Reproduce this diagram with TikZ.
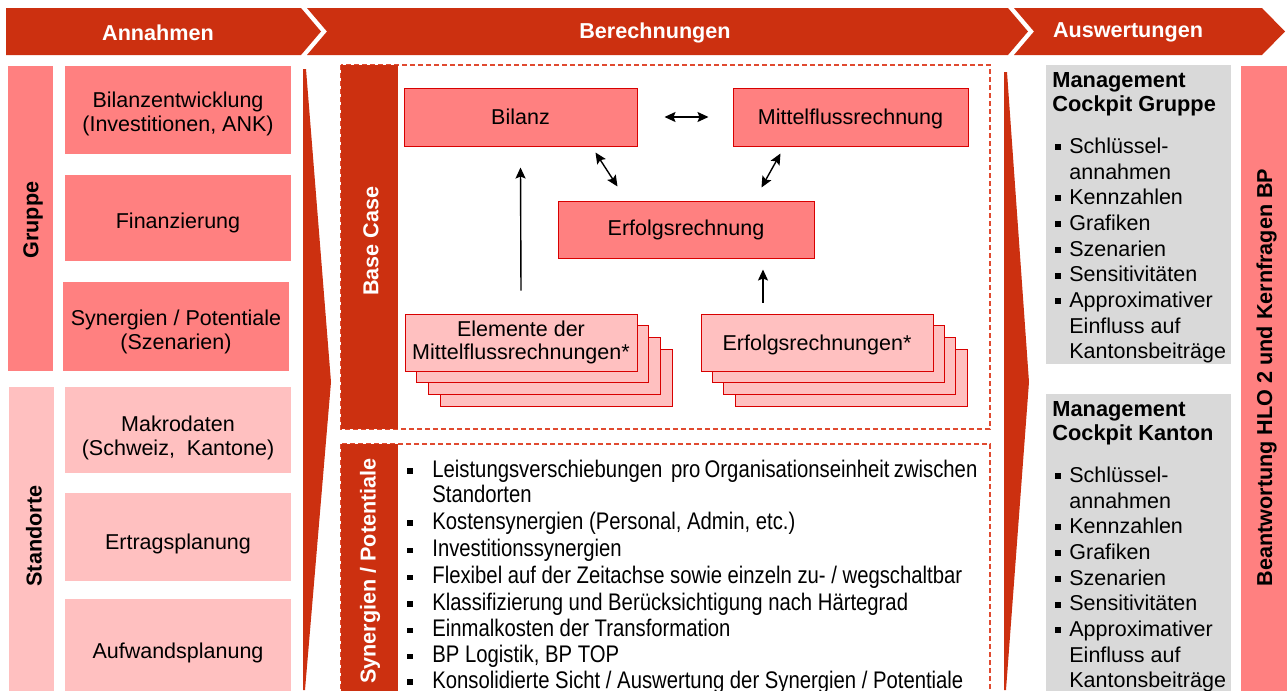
\documentclass[tikz,border=0pt]{standalone}
\usepackage{fontspec}
\setmainfont{Liberation Sans}
\newfontfamily\narrowfont[FakeStretch=0.845]{Liberation Sans}
\usetikzlibrary{arrows.meta}

\begin{document}
\begin{tikzpicture}[x=0.5pt, y=-0.5pt,
  font=\fontsize{10.75}{12}\selectfont,
  >={Stealth[length=5.5pt, width=5pt, inset=1pt]},
  assumbox/.style={fill=darkpink, inner sep=0pt, minimum width=113pt},
  locbox/.style={assumbox, fill=lightpink},
  boxlabel/.style={inner sep=0pt, align=center},
  calcbox/.style={draw=boxred, line width=0.5pt, fill=darkpink, inner sep=0pt, align=center, minimum height=29pt},
  stackbox/.style={draw=boxred, line width=0.5pt, fill=lightpink, inner sep=0pt, align=center,
    minimum width=116pt, minimum height=28.5pt, font=\fontsize{10.75}{11.7}\selectfont},
  bartext/.style={rotate=90, inner sep=0pt, font=\fontsize{10.8}{12}\selectfont\bfseries},
  hdrtext/.style={text=white, inner sep=0pt, font=\fontsize{10.8}{12}\selectfont\bfseries},
  dashframe/.style={draw=dashred, line width=0.6pt, dash pattern=on 2.5pt off 1.5pt},
  flowarrow/.style={<->, line width=0.7pt},
  listtext/.style={anchor=base west, inner sep=0pt, font=\narrowfont\fontsize{12}{12.5}\selectfont},
  cptext/.style={anchor=base west, inner sep=0pt},
  cptitle/.style={cptext, font=\fontsize{10.9}{12}\selectfont\bfseries}
]

  % Colors
  \definecolor{hdrred}{HTML}{CC3010}
  \definecolor{darkpink}{HTML}{FF8080}
  \definecolor{lightpink}{HTML}{FFC0C0}
  \definecolor{boxred}{HTML}{D80000}
  \definecolor{dashred}{HTML}{E04A30}
  \definecolor{cpgray}{HTML}{D9D9D9}

  \useasboundingbox (0,0) rectangle (1287,691);
  \clip (0,0) rectangle (1287,691);

  % Header chevrons
  \fill[hdrred] (6,8) -- (301,8) -- (321,31.5) -- (301,55) -- (6,55) -- cycle;
  \fill[hdrred] (307,8) -- (1008,8) -- (1028,31.5) -- (1008,55) -- (307,55) -- (327,31.5) -- cycle;
  \fill[hdrred] (1014,8) -- (1262,8) -- (1285,31.5) -- (1262,55) -- (1014,55) -- (1034,31.5) -- cycle;
  \node[hdrtext] (annahmen) at (158,32.5) {Annahmen};
  \node[hdrtext] (berechnungen) at (655,32.5) {Berechnungen};
  \node[hdrtext] (auswertungen) at (1128,32.5) {Auswertungen};

  % PART 1: Annahmen
  \fill[darkpink] (8,66) rectangle (53,371);
  \node[bartext] (gruppe) at (33,220) {Gruppe};
  \fill[lightpink] (9,387) rectangle (54,700);
  \node[bartext] (standorte) at (34,536) {Standorte};

  \node[assumbox, minimum height=44pt] (bilentw) at (178,110) {};
  \node[boxlabel] (bilentwtxt) at (178,114) {Bilanzentwicklung\\(Investitionen, ANK)};
  \node[assumbox, minimum height=43pt] (finanz) at (178,218) {};
  \node[boxlabel] (finanztxt) at (178,223) {Finanzierung};
  \node[assumbox, minimum height=44.5pt] (synpot) at (176,326.5) {};
  \node[boxlabel] (synpottxt) at (176,331.5) {Synergien / Potentiale\\(Szenarien)};
  \node[locbox, minimum height=43pt] (makro) at (178,430) {};
  \node[boxlabel] (makrotxt) at (178,438) {Makrodaten\\(Schweiz,\ \ Kantone)};
  \node[locbox, minimum height=44pt] (ertrag) at (178,537) {};
  \node[boxlabel] (ertragtxt) at (178,544) {Ertragsplanung};
  \node[locbox, minimum height=48pt] (aufwand) at (178,647) {};
  \node[boxlabel] (aufwandtxt) at (178,653) {Aufwandsplanung};

  % Tapered arrows
  \fill[hdrred] (303,69) -- (306,69) -- (331,382) -- (305,690) -- (303,690) -- cycle;
  \fill[hdrred] (1004,72) -- (1007,72) -- (1029,382) -- (1006,690) -- (1004,690) -- cycle;

  % PART 2: Berechnungen
  \draw[dashframe] (341,65) rectangle (990,429);
  \fill[hdrred] (341,65) rectangle (398,429);
  \node[bartext, text=white] (basecase) at (371,241) {Base Case};
  \draw[dashframe] (341,444) rectangle (990,710);
  \fill[hdrred] (341,444) rectangle (398,710);
  \node[bartext, text=white] (synbar) at (370,571) {Synergien / Potentiale};

  \node[calcbox, minimum width=116.5pt] (bilanz) at (520.5,117) {Bilanz};
  \node[calcbox, minimum width=117.5pt, text depth=0pt] (mittel) at (850.5,117) {Mittelflussrechnung};
  \node[calcbox, minimum width=128pt, minimum height=28.5pt] (erfolg) at (686,229.5) {Erfolgsrechnung};

  % stacked inputs
  \foreach \k in {3,2,1}
    \node[stackbox] (elemback\k) at (521+11.8*\k, 342.5+11.8*\k) {};
  \node[stackbox] (elem) at (521,342.5) {Elemente der\\Mittelflussrechnungen*};
  \foreach \k in {3,2,1}
    \node[stackbox] (erfsback\k) at (817+11.4*\k, 342.5+11.8*\k) {};
  \node[stackbox, text depth=0pt] (erfs) at (817,342.5) {Erfolgsrechnungen*};

  \draw[flowarrow, shorten <=13.5pt, shorten >=12pt] (bilanz.east) -- (mittel.west);
  \draw[flowarrow] ([shift={(-42,6)}]bilanz.south east) -- ([shift={(60,-14)}]erfolg.north west);
  \draw[flowarrow] ([shift={(48,7)}]mittel.south west) -- ([shift={(-53,-13)}]erfolg.north east);
  \draw[->, line width=0.7pt] ([yshift=11.5pt]elem.north) -- ([yshift=-10.5pt]bilanz.south);
  \draw[->, line width=0.7pt] ([shift={(-54,-11)}]erfs.north) -- ([shift={(77,11)}]erfolg.south);

  % synergy list
  \node[listtext] (syn1) at (432,477) {\makebox[272.5pt][s]{Leistungsverschiebungen\ \ pro Organisationseinheit zwischen}};
  \node[listtext] (syn1b) at (432,502) {Standorten};
  \foreach \yb/\txt [count=\i from 2] in {529/{Kostensynergien (Personal, Admin, etc.)},
      556.5/{Investitionssynergien},
      583.5/{Flexibel auf der Zeitachse sowie einzeln zu- / wegschaltbar},
      610/{Klassifizierung und Berücksichtigung nach Härtegrad},
      636.5/{Einmalkosten der Transformation},
      662.5/{BP Logistik, BP TOP},
      688/{Konsolidierte Sicht / Auswertung der Synergien / Potentiale}}
    \node[listtext] (syn\i) at (432,\yb) {\txt};
  \foreach \yb in {477,529,556.5,583.5,610,636.5,662.5,688}
    \fill (407,\yb-9) rectangle (412.5,\yb-3.5);

  % PART 3: Auswertungen
  \foreach \dy/\unit in {0/Gruppe, 329/Kanton} {
    \fill[cpgray] (1046,65+\dy) rectangle (1231,364+\dy);
    \node[cptitle] (cptitle\unit a) at (1052,87+\dy) {Management};
    \node[cptitle] (cptitle\unit b) at (1052,111.7+\dy) {Cockpit \unit};
    \foreach \k/\txt/\b in {0/{Schlüssel-}/1, 1/{annahmen}/0, 2/{Kennzahlen}/1,
        3/{Grafiken}/1, 4/{Szenarien}/1, 5/{Sensitivitäten}/1,
        6/{Approximativer}/1, 7/{Einfluss auf}/0, 8/{Kantonsbeiträge}/0} {
      \node[cptext] (cp\unit\k) at (1069,153.3+25.7*\k+\dy) {\txt};
      \ifnum\b=1
        \fill (1055,153.3+25.7*\k+\dy-3.3) rectangle (1061,153.3+25.7*\k+\dy-9.3);
      \fi
    }
  }
  \fill[darkpink] (1241,66) rectangle (1290,700);
  \node[bartext] (antwort) at (1266.5,377.5) {Beantwortung HLO 2 und Kernfragen BP};

\end{tikzpicture}
\end{document}
